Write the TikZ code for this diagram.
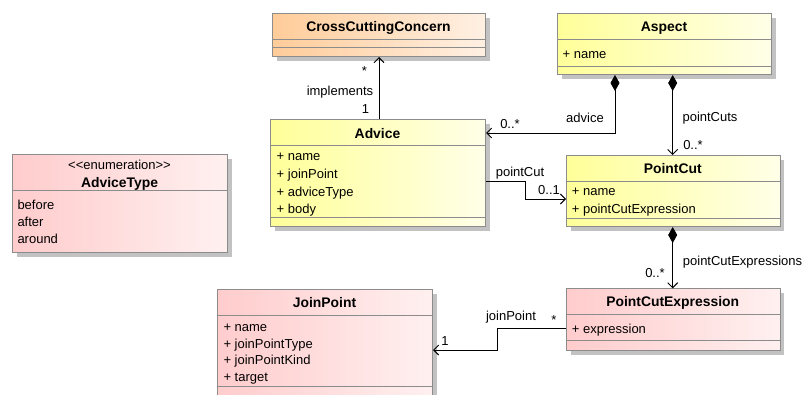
\documentclass[tikz,border=0pt]{standalone}
\usepackage{fontspec}
\setmainfont{Liberation Sans}
\usetikzlibrary{arrows.meta,shadows}

\definecolor{edgegrey}{HTML}{8C8C8C}
\definecolor{shadowgrey}{HTML}{C2C2C2}
\definecolor{orangeL}{HTML}{FFCC99}
\definecolor{orangeR}{HTML}{FFF0E3}
\definecolor{yellowL}{HTML}{FFFF99}
\definecolor{yellowR}{HTML}{FFFFE8}
\definecolor{pinkL}{HTML}{FFCCCC}
\definecolor{pinkR}{HTML}{FFF0F0}

\tikzset{
  classbox/.style={rectangle, draw=edgegrey, line width=1pt, inner sep=0pt,
    anchor=north west,
    general shadow={fill=shadowgrey, shadow xshift=4pt, shadow yshift=-4pt}},
  orangebox/.style={classbox, left color=orangeL, right color=orangeR},
  yellowbox/.style={classbox, left color=yellowL, right color=yellowR},
  pinkbox/.style={classbox, left color=pinkL, right color=pinkR},
  sepline/.style={draw=edgegrey, line width=1pt},
  ctitle/.style={font=\fontsize{13.9}{16}\selectfont\bfseries, anchor=base, inner sep=0pt},
  cattr/.style={font=\fontsize{13}{16}\selectfont, anchor=base west, inner sep=0pt},
  cstereo/.style={font=\fontsize{13}{16}\selectfont, anchor=base, inner sep=0pt},
  elabel/.style={font=\fontsize{13}{16}\selectfont, inner sep=0pt},
  assoc/.style={draw=black, line width=0.9pt, line join=miter},
  navarrow/.style={-{Straight Barb[length=5pt,width=10pt]}},
  comparrow/.style={{Diamond[length=16pt,width=9pt]}-{Straight Barb[length=5pt,width=10pt]}},
}

\begin{document}
\begin{tikzpicture}[x=1pt,y=-1pt]
\useasboundingbox (0,0) rectangle (802,394);
\clip (0,0) rectangle (802,394);

% CrossCuttingConcern
\node[orangebox, minimum width=213pt, minimum height=43pt] (ccc) at (272,13) {};
\draw[sepline] (272,39) -- (485,39);
\draw[sepline] (272,47.7) -- (485,47.7);
\node[ctitle] (ccct) at (378.5,31.5) {CrossCuttingConcern};

% Aspect
\node[yellowbox, minimum width=214pt, minimum height=61pt] (asp) at (557,13) {};
\draw[sepline] (557,39.3) -- (771,39.3);
\draw[sepline] (557,66) -- (771,66);
\node[ctitle] (aspt) at (664,31.5) {Aspect};
\node[cattr] (aspa) at (562.5,58) {+ name};

% Advice
\node[yellowbox, minimum width=215pt, minimum height=106.7pt] (adv) at (270,119.3) {};
\draw[sepline] (270,145.7) -- (485,145.7);
\draw[sepline] (270,217.3) -- (485,217.3);
\node[ctitle] (advt) at (377.5,138.2) {Advice};
\node[cattr] (adva) at (276.5,160.7) {+ name};
\node[cattr] (advb) at (276.5,178.3) {+ joinPoint};
\node[cattr] (advc) at (276.5,196) {+ adviceType};
\node[cattr] (advd) at (276.5,213) {+ body};

% PointCut
\node[yellowbox, minimum width=213.5pt, minimum height=71pt] (pc) at (566,155) {};
\draw[sepline] (566,181.7) -- (779.5,181.7);
\draw[sepline] (566,218.3) -- (779.5,218.3);
\node[ctitle] (pct) at (672.7,173.2) {PointCut};
\node[cattr] (pca) at (571.7,195.7) {+ name};
\node[cattr] (pcb) at (571.7,213) {+ pointCutExpression};

% AdviceType (enumeration)
\node[pinkbox, minimum width=215pt, minimum height=98.3pt] (at) at (12,154) {};
\draw[sepline] (12,190.7) -- (227,190.7);
\node[cstereo] (atst) at (119.5,169.5) {<{}<enumeration>{}>};
\node[ctitle] (att) at (119.5,187) {AdviceType};
\node[cattr] (ata) at (17.3,209.7) {before};
\node[cattr] (atb) at (17.3,226.3) {after};
\node[cattr] (atc) at (17.3,243) {around};

% JoinPoint
\node[pinkbox, minimum width=215pt, minimum height=120pt] (jp) at (217,289) {};
\draw[sepline] (217,315.7) -- (432,315.7);
\draw[sepline] (217,386) -- (432,386);
\node[ctitle] (jpt) at (324.5,307.8) {JoinPoint};
\node[cattr] (jpa) at (223.3,331.3) {+ name};
\node[cattr] (jpb) at (223.3,348) {+ joinPointType};
\node[cattr] (jpc) at (223.3,364.7) {+ joinPointKind};
\node[cattr] (jpd) at (223.3,381.3) {+ target};

% PointCutExpression
\node[pinkbox, minimum width=213.5pt, minimum height=61.7pt] (pce) at (566,288.3) {};
\draw[sepline] (566,314.3) -- (779.5,314.3);
\draw[sepline] (566,340.7) -- (779.5,340.7);
\node[ctitle] (pcet) at (672.7,306.3) {PointCutExpression};
\node[cattr] (pcea) at (571.7,333) {+ expression};

% associations
\draw[assoc, navarrow] (adv.north -| ccc.south) -- (ccc.south);
\draw[assoc, comparrow] (asp.south -| 615,0) |- (adv.east |- 0,133);
\draw[assoc, comparrow] (asp.south -| 672.7,0) -- (pc.north -| 672.7,0);
\draw[assoc, navarrow] (adv.east |- 0,181.7) -| (525,199) -- (pc.west |- 0,199);
\draw[assoc, comparrow] (pc.south -| 672.7,0) -- (pce.north -| 672.7,0);
\draw[assoc, navarrow] (pce.west |- 0,328.3) -| (497.7,350) -- (jp.east |- 0,350);

% association labels and multiplicities
\node[elabel] (l1) at (364.5,71) {*};
\node[elabel] (l2) at (340,92) {implements};
\node[elabel] (l3) at (365.5,109) {1};
\node[elabel] (l4) at (585,118) {advice};
\node[elabel] (l5) at (510,124) {0..*};
\node[elabel] (l6) at (710,118) {pointCuts};
\node[elabel] (l7) at (693,145.5) {0..*};
\node[elabel] (l8) at (520,173) {pointCut};
\node[elabel] (l9) at (549,190) {0..1};
\node[elabel, anchor=west] (l10) at (682.7,261.7) {pointCutExpressions};
\node[elabel] (l11) at (655,273.5) {0..*};
\node[elabel] (l12) at (511,316.7) {joinPoint};
\node[elabel] (l13) at (445,341) {1};
\node[elabel] (l14) at (554,320) {*};
\end{tikzpicture}
\end{document}
